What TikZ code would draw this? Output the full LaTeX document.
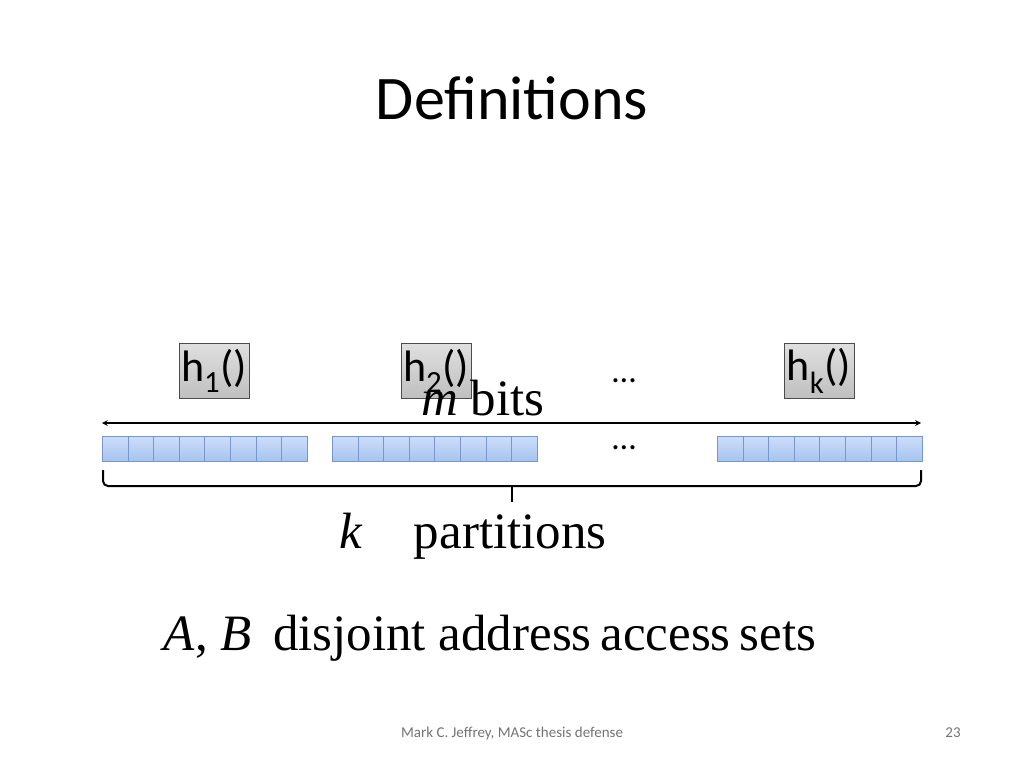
\documentclass[tikz,border=0pt]{standalone}
\usepackage{fontspec}
\setmainfont{Liberation Serif}
\newfontfamily\calib{Carlito}
\definecolor{celltop}{RGB}{205,222,250}
\definecolor{cellbot}{RGB}{165,195,240}
\definecolor{celledge}{RGB}{120,150,200}
\begin{document}
\begin{tikzpicture}[x=1pt,y=-1pt,
  cell/.style={draw=celledge, top color=celltop, bottom color=cellbot, minimum width=25.6pt, minimum height=25pt, inner sep=0pt, line width=0.8pt},
  hbox/.style={draw=gray!60!black, top color=gray!25, bottom color=gray!50, minimum width=70pt, minimum height=55pt, inner sep=0pt, font=\calib\fontsize{44}{48}\selectfont},
  big/.style={font=\fontsize{51}{56}\selectfont}]
\useasboundingbox (0,0) rectangle (1024,768);
\node[font=\calib\fontsize{62}{68}\selectfont] (title) at (512,98) {Definitions};
\foreach \g/\x in {a/102,b/332,c/717}{
  \foreach \i in {0,...,7}{
    \node[cell, anchor=north west] (\g\i) at (\x+\i*25.6,436) {};
  }
}
\node[hbox] (h1) at (214,371) {h\textsubscript{1}()};
\node[hbox] (h2) at (436,371) {h\textsubscript{2}()};
\node[hbox] (hk) at (819,371) {h\textsubscript{k}()};
\node[font=\calib\fontsize{34}{38}\selectfont] (d1) at (624,381) {…};
\node[font=\calib\fontsize{34}{38}\selectfont] (d2) at (624,448) {…};
\coordinate (L) at (102,423); \coordinate (R) at (921,423);
\draw[<->, >=stealth, line width=1.5pt] (L) -- (R);
\node[big] (m) at (483,398) {\textit{m} bits};
\draw[line width=2pt, rounded corners=5pt] (103,470) -- (103,486) -- (512,486) -- (921,486) -- (921,470);
\draw[line width=2pt] (512,486) -- (512,502);
\node[big] (k) at (473,536) {\textit{k}\quad partitions};
\node[big] (ab) at (490,638) {\textit{A}, \textit{B}\, disjoint address\hspace{-4pt} access\hspace{-4pt} sets};
\node[font=\calib\fontsize{15}{17}\selectfont, text=gray!90!black] (foot) at (512,733) {Mark C. Jeffrey, MASc thesis defense};
\node[font=\calib\fontsize{15}{17}\selectfont, text=gray!90!black] (pg) at (953,733) {23};
\end{tikzpicture}
\end{document}
